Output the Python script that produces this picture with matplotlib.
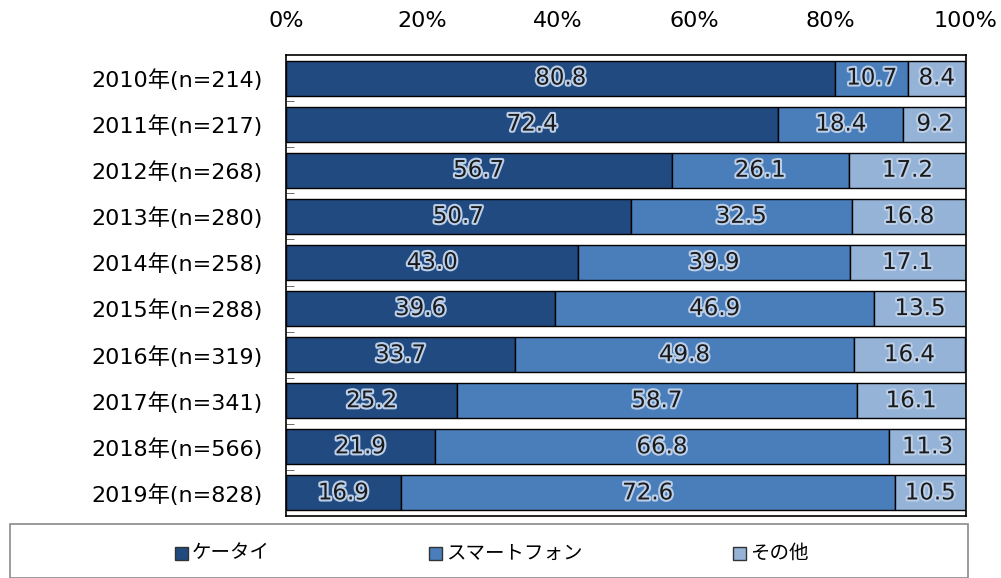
import matplotlib
matplotlib.use('Agg')
import matplotlib.pyplot as plt
import matplotlib.patheffects as pe
from matplotlib.patches import Rectangle

categories = ['2010年(n=214)', '2011年(n=217)', '2012年(n=268)', '2013年(n=280)', '2014年(n=258)',
              '2015年(n=288)', '2016年(n=319)', '2017年(n=341)', '2018年(n=566)', '2019年(n=828)']
keitai = [80.8, 72.4, 56.7, 50.7, 43.0, 39.6, 33.7, 25.2, 21.9, 16.9]
smartphone = [10.7, 18.4, 26.1, 32.5, 39.9, 46.9, 49.8, 58.7, 66.8, 72.6]
other = [8.4, 9.2, 17.2, 16.8, 17.1, 13.5, 16.4, 16.1, 11.3, 10.5]
series_names = ['ケータイ', 'スマートフォン', 'その他']
colors = ['#214A80', '#4A7EBB', '#95B3D7']
xticks = [0, 20, 40, 60, 80, 100]

W, H = 1001, 578
fig = plt.figure(figsize=(W / 100, H / 100), dpi=100)
ax = fig.add_axes([286 / W, 1 - 516 / H, (966 - 286) / W, (516 - 55) / H])

font_lat = ['DejaVu Sans', 'Noto Sans CJK JP']
glow = [pe.withStroke(linewidth=3, foreground='#bccfe8')]

y = list(range(len(categories)))
left = [0] * len(categories)
for vals, col in zip([keitai, smartphone, other], colors):
    bars = ax.barh(y, vals, left=left, height=0.76, color=col, edgecolor='black', linewidth=1)
    for yi, l, v in zip(y, left, vals):
        ax.text(l + v / 2, yi, f'{v:.1f}', ha='center', va='center', fontsize=16.5,
                family=font_lat, color='#1a1a1a', path_effects=glow)
    left = [a + b for a, b in zip(left, vals)]

ax.set_xlim(0, 100)
ax.set_ylim(len(categories) - 0.5, -0.5)
ax.xaxis.tick_top()
ax.set_xticks(xticks)
ax.set_xticklabels([f'{v}%' for v in xticks], fontsize=16, family=font_lat)
ax.set_yticks(y)
ax.set_yticklabels(categories, fontsize=16, family=font_lat)
ax.set_yticks([i + 0.5 for i in y[:-1]], minor=True)
ax.tick_params(axis='x', length=0, pad=17)
ax.tick_params(axis='y', which='major', length=0, pad=17)
ax.tick_params(axis='y', which='minor', length=6, direction='in', color='#555555')
for s in ax.spines.values():
    s.set_color('black')
    s.set_linewidth(1.2)

# legend box
fig.add_artist(Rectangle((10 / W, 0), (968 - 10) / W, (H - 524) / H, transform=fig.transFigure,
                         facecolor='white', edgecolor='#8a8a8a', linewidth=1.2))
leg_x = [175, 429, 733]
for name, col, lx in zip(series_names, colors, leg_x):
    fig.add_artist(Rectangle((lx / W, 1 - 560 / H), 13 / W, 13 / H, transform=fig.transFigure,
                             facecolor=col, edgecolor='#333333', linewidth=1))
    fig.text((lx + 17) / W, 1 - 553 / H, name, fontsize=14, va='center', ha='left',
             family=['Noto Sans CJK JP', 'DejaVu Sans'])

fig.savefig('out.png', dpi=100)
